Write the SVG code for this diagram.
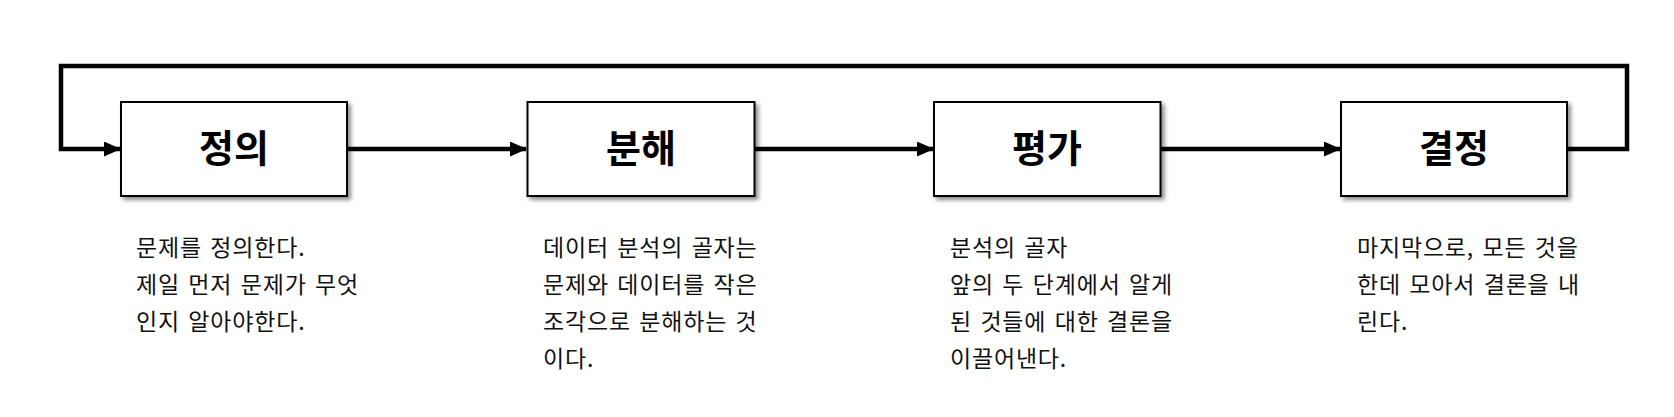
<svg xmlns="http://www.w3.org/2000/svg" width="1674" height="417" viewBox="0 0 1674 417">
<style>
.box{fill:#fff;stroke:#000;stroke-width:2;}
.title{font-family:"Noto Sans CJK KR","Noto Sans",sans-serif;font-size:38px;font-weight:bold;fill:#000;text-anchor:middle;}
.desc{font-family:"Noto Sans CJK KR","Noto Sans",sans-serif;font-size:23px;letter-spacing:0.8px;word-spacing:2.5px;fill:#111;}
.conn{fill:none;stroke:#000;stroke-width:4.5;}
</style>
<defs>
<filter id="sh" x="-10%" y="-10%" width="125%" height="130%">
<feDropShadow dx="3" dy="3" stdDeviation="2" flood-color="#000" flood-opacity="0.45"/>
</filter>
<marker id="arr" markerWidth="17" markerHeight="15" refX="16" refY="7.5" orient="auto" markerUnits="userSpaceOnUse">
<path d="M0,0 L17,7.5 L0,15 Z" fill="#000"/>
</marker>
</defs>
<g id="connectors">
<path class="conn" d="M347,149 L526,149" marker-end="url(#arr)"/>
<path class="conn" d="M755,149 L933,149" marker-end="url(#arr)"/>
<path class="conn" d="M1161,149 L1340,149" marker-end="url(#arr)"/>
<path class="conn" d="M1567,149 L1627,149 L1627,66 L61,66 L61,149 L120,149" marker-end="url(#arr)"/>
</g>
<g id="node1">
<rect class="box" x="121" y="102" width="226" height="94" filter="url(#sh)"/>
<text class="title" x="234" y="162">정의</text>
<text class="desc" x="136" y="256">문제를 정의한다.</text>
<text class="desc" x="136" y="293">제일 먼저 문제가 무엇</text>
<text class="desc" x="136" y="330">인지 알아야한다.</text>
</g>
<g id="node2">
<rect class="box" x="527.5" y="102" width="227" height="94" filter="url(#sh)"/>
<text class="title" x="641" y="162">분해</text>
<text class="desc" x="543" y="256">데이터 분석의 골자는</text>
<text class="desc" x="543" y="293">문제와 데이터를 작은</text>
<text class="desc" x="543" y="330">조각으로 분해하는 것</text>
<text class="desc" x="543" y="367">이다.</text>
</g>
<g id="node3">
<rect class="box" x="934" y="102" width="226.5" height="94" filter="url(#sh)"/>
<text class="title" x="1047" y="162">평가</text>
<text class="desc" x="950" y="256">분석의 골자</text>
<text class="desc" x="950" y="293">앞의 두 단계에서 알게</text>
<text class="desc" x="950" y="330">된 것들에 대한 결론을</text>
<text class="desc" x="950" y="367">이끌어낸다.</text>
</g>
<g id="node4">
<rect class="box" x="1341" y="102" width="226" height="94" filter="url(#sh)"/>
<text class="title" x="1454" y="162">결정</text>
<text class="desc" x="1357" y="256">마지막으로, 모든 것을</text>
<text class="desc" x="1357" y="293">한데 모아서 결론을 내</text>
<text class="desc" x="1357" y="330">린다.</text>
</g>
</svg>
